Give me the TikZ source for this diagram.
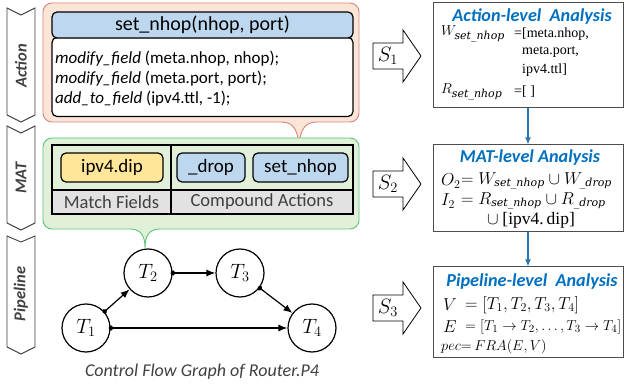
\documentclass[tikz,border=0pt]{standalone}
\usepackage{fontspec}
\setmainfont{Carlito}
\newfontfamily\tnr{Liberation Serif}
\newfontfamily\dvs{DejaVu Serif}
\newcommand\subt[2]{\hbox{\fontsize{#1}{#1}\selectfont\dvs\itshape #2}}
\usetikzlibrary{arrows.meta}
\definecolor{pinkfill}{HTML}{FBE5D6}
\definecolor{pinkline}{HTML}{D9857B}
\definecolor{greenfill}{HTML}{E2F0D9}
\definecolor{greenline}{HTML}{5CC57A}
\definecolor{bluefill}{HTML}{BDD7EE}
\definecolor{yellowfill}{HTML}{FFE699}
\definecolor{grayrow}{HTML}{E2E2E2}
\definecolor{titleblue}{HTML}{0070C0}
\definecolor{arrowblue}{HTML}{2E75B6}
\definecolor{darkgray}{HTML}{404040}
\begin{document}
\begin{tikzpicture}[x=1pt,y=-1pt,
  chev/.style={draw=darkgray, line width=0.9pt, fill=white},
  chevlabel/.style={rotate=90, text=darkgray, font=\fontsize{16.5}{19}\selectfont\bfseries\itshape},
  pinkcall/.style={draw=pinkline, fill=pinkfill, line width=0.9pt},
  greencall/.style={draw=greenline, fill=greenfill, line width=0.9pt},
  codebox/.style={draw=black, line width=1.2pt, rounded corners=5pt, inner sep=0pt},
  tag/.style={draw=black, line width=1.2pt, rounded corners=5pt, inner sep=0pt, minimum height=29pt, font=\fontsize{19}{22}\selectfont},
  txt/.style={font=\fontsize{18.5}{20}\selectfont, inner sep=0pt},
  tnode/.style={circle, draw=black, line width=1.2pt, fill=white, minimum size=48pt, inner sep=0pt, font=\fontsize{20}{24}\selectfont},
  cfg/.style={line width=1.2pt, shorten <=-2pt, {Circle[length=5pt,width=5pt]}-{Latex[length=9pt,width=7pt]}},
  sarrow/.style={draw=black, line width=0.8pt, fill=white},
  abox/.style={draw=black!70, line width=1pt, fill=white, minimum width=190pt, inner sep=0pt},
  atitle/.style={text=titleblue, font=\fontsize{18.2}{20}\selectfont\bfseries\itshape, inner sep=0pt},
  eq/.style={font=\fontsize{16.5}{18}\selectfont, inner sep=0pt, anchor=west},
  tm/.style={font=\fontsize{14}{18}\selectfont\tnr, inner sep=0pt, anchor=west},
  barrow/.style={draw=arrowblue, line width=1.2pt, -{Latex[length=7pt,width=6pt]}}
]
\useasboundingbox (0,0) rectangle (624,390);

% chevrons
\draw[chev] (7,8) -- (21,15) -- (35,8) -- (35,115) -- (21,122) -- (7,115) -- cycle;
\draw[chev] (7,126) -- (21,133) -- (35,126) -- (35,223) -- (21,230) -- (7,223) -- cycle;
\draw[chev] (7,236) -- (21,242) -- (35,236) -- (35,347) -- (21,354) -- (7,347) -- cycle;
\node[chevlabel] (lact) at (21,66) {Action};
\node[chevlabel] (lmat) at (21,178) {MAT};
\node[chevlabel] (lpipe) at (21,294) {Pipeline};

% pink callout
\path[pinkcall] (52,3) -- (350,3) arc[start angle=-90,end angle=0,radius=9] -- (359,113)
  arc[start angle=0,end angle=90,radius=9] -- (317,122)
  .. controls (303,122) and (299,132) .. (299,153)
  .. controls (299,132) and (295,122) .. (281,122) -- (52,122)
  arc[start angle=90,end angle=180,radius=9] -- (43,12)
  arc[start angle=180,end angle=270,radius=9] -- cycle;

% green callout
\path[greencall] (52,138) -- (350,138) arc[start angle=-90,end angle=0,radius=9] -- (359,220)
  arc[start angle=0,end angle=90,radius=9] -- (160,229)
  .. controls (149,229) and (145,236) .. (145,248)
  .. controls (145,236) and (141,229) .. (130,229) -- (52,229)
  arc[start angle=90,end angle=180,radius=9] -- (43,147)
  arc[start angle=180,end angle=270,radius=9] -- cycle;

% action code box
\node[codebox, fill=white, minimum width=301pt, minimum height=79pt] (body) at (202.5,77) {};
\node[codebox, fill=bluefill, minimum width=301pt, minimum height=26pt, txt, font=\fontsize{20}{22}\selectfont] (head) at (202.5,25) {set\_nhop(nhop, port)};
\node[txt, font=\fontsize{17}{20}\selectfont, anchor=west, align=left] (code) at (55,79) {\textit{modify\_field} (meta.nhop, nhop);\\
\textit{modify\_field} (meta.port, port);\\
\textit{add\_to\_field} (ipv4.ttl, -1);};

% MAT table
\fill[grayrow] (52,190) rectangle (353,214);
\draw[line width=1.2pt] (52,145) rectangle (353,214);
\draw[line width=1.2pt] (52,190) -- (353,190);
\draw[line width=1.2pt] (171,145) -- (171,214);
\node[tag, fill=yellowfill, minimum width=102pt] (dip) at (112,167.5) {ipv4.dip};
\node[tag, fill=bluefill, minimum width=68pt] (drop) at (211,167.5) {\_drop};
\node[tag, fill=bluefill, minimum width=95pt] (setn) at (300.5,167.5) {set\_nhop};
\node[txt, text=darkgray] (mf) at (111.5,202) {Match Fields};
\node[txt, text=darkgray] (ca) at (262,202) {Compound Actions};

% control flow graph
\node[tnode] (T1) at (86,328) {$T_1$};
\node[tnode] (T2) at (148,273) {$T_2$};
\node[tnode] (T3) at (240,273) {$T_3$};
\node[tnode] (T4) at (312,328) {$T_4$};
\draw[cfg] (T1) -- (T2);
\draw[cfg] (T2) -- (T3);
\draw[cfg] (T3) -- (T4);
\draw[cfg] (T1) -- (T4);
\node[txt, font=\fontsize{18}{20}\selectfont\itshape, text=darkgray] (cap) at (202,372) {Control Flow Graph of Router.P4};

% S arrows
\draw[sarrow] (373,43) -- (403,43) -- (403,30) -- (421,56) -- (403,82) -- (403,69) -- (373,69) -- cycle;
\draw[sarrow] (373,171) -- (403,171) -- (403,158) -- (421,184) -- (403,210) -- (403,197) -- (373,197) -- cycle;
\draw[sarrow] (373,295) -- (403,295) -- (403,282) -- (421,308) -- (403,334) -- (403,321) -- (373,321) -- cycle;
\node[font=\fontsize{20}{24}\selectfont] (s1) at (388,56) {$S_1$};
\node[font=\fontsize{20}{24}\selectfont] (s2) at (388,184) {$S_2$};
\node[font=\fontsize{20}{24}\selectfont] (s3) at (388,308) {$S_3$};

% analysis boxes
\node[abox, minimum height=105pt] (b1) at (528,55.5) {};
\node[abox, minimum height=87pt] (b2) at (528,188.5) {};
\node[abox, minimum height=90pt] (b3) at (528,312) {};
\draw[barrow] (b1.south) -- (b2.north);
\draw[barrow] (b2.south) -- (b3.north);

\node[atitle] (t1) at (532,17) {Action-level\ \ Analysis};
\node[eq, font=\fontsize{15.5}{18}\selectfont] (w1) at (441,34) {$W_{\subt{11}{set\_nhop}}$};
\node[tm] (w2) at (514,34) {=[meta.nhop,};
\node[tm] (w3) at (522,52) {meta.port,};
\node[tm] (w4) at (522,70) {ipv4.ttl]};
\node[eq, font=\fontsize{15.5}{18}\selectfont] (r1) at (441,92) {$R_{\subt{11}{set\_nhop}}$};
\node[tm] (r2) at (514,92) {=[ ]};

\node[atitle] (t2) at (530,158) {MAT-level Analysis};
\node[eq] (o1) at (441,181) {$O_2$};
\node[eq] (o2) at (461,181) {$=W_{\subt{11}{set\_nhop}}\cup W_{\subt{11}{\_drop}}$};
\node[eq] (i1) at (441,201) {$I_2$};
\node[eq] (i2) at (461,201) {$=R_{\subt{11}{set\_nhop}}\cup R_{\subt{11}{\_drop}}$};
\node[eq] (i3) at (487,220) {$\cup$\ {\tnr\fontsize{17.5}{18}\selectfont[ipv4.\,dip]}};

\node[atitle] (t3) at (532,282) {Pipeline-level\ \ Analysis};
\node[eq] (v1) at (443,305) {$V$};
\node[eq] (v2) at (465,305) {$=[T_1,T_2,T_3,T_4]$};
\node[eq] (e1) at (443,327) {$E$};
\node[eq, font=\fontsize{15.5}{18}\selectfont] (e2) at (465,327) {$=[T_1\rightarrow T_2,\ldots,T_3\rightarrow T_4]$};
\node[eq, font=\fontsize{15.5}{18}\selectfont] (p1) at (441,347) {$pec{=}\,FRA(E,V)$};
\end{tikzpicture}
\end{document}
